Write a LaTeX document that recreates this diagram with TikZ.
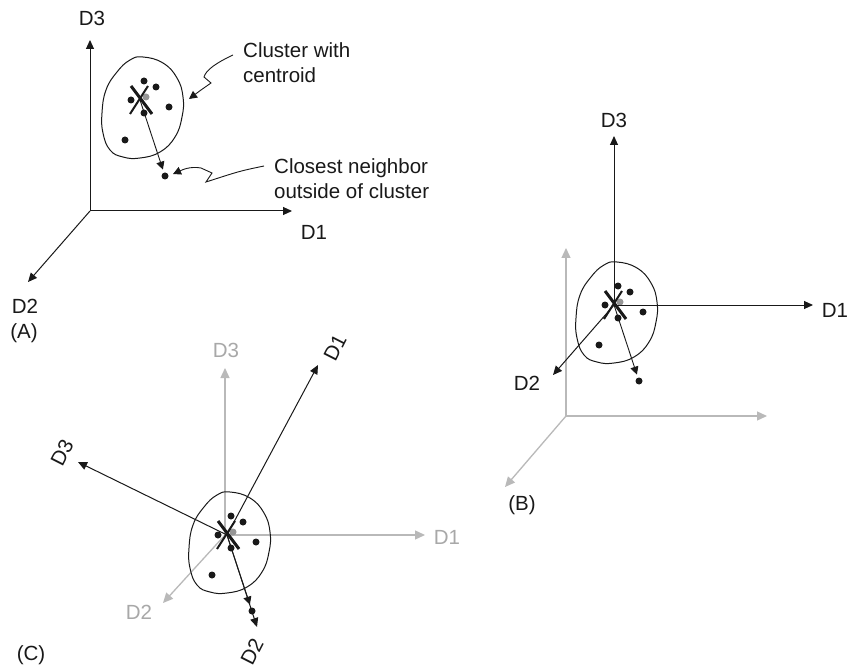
\documentclass[tikz,border=0pt]{standalone}
\usepackage{fontspec}
\setmainfont{Liberation Sans}
\usetikzlibrary{arrows.meta}

\definecolor{ink}{RGB}{25,25,25}
\definecolor{axisgray}{RGB}{185,185,185}
\definecolor{labelgray}{RGB}{168,168,168}
\definecolor{centgray}{RGB}{150,150,150}

\tikzset{
  tip/.style={-{Triangle[length=9pt,width=8pt]}},
  blackaxis/.style={draw=ink, line width=1pt, tip},
  grayaxis/.style={draw=axisgray, line width=1.3pt, -{Triangle[length=10pt,width=9pt]}},
  pointer/.style={draw=ink, line width=0.9pt, -{Triangle[length=8pt,width=8pt]}},
  lbl/.style={font=\fontsize{20.5}{25}\selectfont, text=ink, inner sep=0pt},
  graylbl/.style={lbl, text=labelgray},
  blob/.style={draw=ink, line width=1pt},
  dotmark/.style={circle, fill=ink, draw=none, inner sep=0pt, minimum size=7pt},
  centmark/.style={circle, fill=centgray, draw=none, inner sep=0pt, minimum size=7pt},
}

% one cluster: outline, members, centroid X and the arrow to the nearest outsider
\newcommand\drawcluster{%
  \coordinate (ctr) at (0,0);
  \draw[blob] plot[smooth cycle, tension=0.75] coordinates {
    (3,-43) (23,-37) (37,-22) (43,-3) (42,17) (35,37) (20,52) (0,58)
    (-17,57) (-30,50) (-37,33) (-38,13) (-34,-10) (-23,-28) (-10,-40)};
  \node[centmark] (cen) at (6,-3) {};
  \node[dotmark] (m1) at (4,-19) {};
  \node[dotmark] (m2) at (16,-13) {};
  \node[dotmark] (m3) at (-9,0) {};
  \node[dotmark] (m4) at (4,13) {};
  \node[dotmark] (m5) at (29,7) {};
  \node[dotmark] (m6) at (-15,40) {};
  \draw[ink, line width=3pt] (-9,-14) -- (12,14);
  \draw[ink, line width=2pt] (8,-14) -- (-10,14);
  \node[dotmark] (nb) at (25,76) {};
  \draw[pointer, shorten >=3pt] (ctr) -- (nb);
}

\begin{document}
\begin{tikzpicture}[x=1pt, y=-1pt]
\useasboundingbox (0,0) rectangle (849,671);
\fill[white] (0,0) rectangle (849,671);

% ---------- (A) original axes ----------
\coordinate (Ao) at (90,211);
\coordinate (Ax) at (292,211);
\coordinate (Ay) at (28,282);
\coordinate (Az) at (90,40);
\draw[blackaxis] (Ao) -- (Az);
\draw[blackaxis] (Ao) -- (Ax);
\draw[blackaxis] (Ao) -- (Ay);
\node[lbl] (Az-l) at (92,18) {D3};
\node[lbl] (Ax-l) at (314,232) {D1};
\node[lbl] (Ay-l) at (25,306) {D2};
\node[lbl] (A-tag) at (24,333) {(A)};

\begin{scope}[shift={(140,100)}, name prefix=A-]
  \drawcluster
\end{scope}

\node[lbl, anchor=north west, align=left] (cl-txt) at (243,42) {Cluster with\\centroid};
\node[lbl, anchor=north west, align=left] (nb-txt) at (274,158) {Closest neighbor\\outside of cluster};

\coordinate (cl-s) at (233,55);
\coordinate (cl-e) at (189,99);
\draw[pointer] (cl-s) .. controls (216,63) and (206,70) .. (204,77)
  -- (211,83) -- (201,90) .. controls (197,93) .. (cl-e);

\coordinate (nb-s) at (264,166);
\coordinate (nb-e) at (173,174);
\draw[pointer] (nb-s) .. controls (240,171) .. (206,182)
  -- (212,173) -- (201,168) .. controls (190,166) and (182,170) .. (nb-e);

% ---------- (B) axes moved to the centroid ----------
\coordinate (Bo) at (566,416);
\coordinate (Bx) at (767,416);
\coordinate (By) at (505,487);
\coordinate (Bz) at (566,248);
\draw[grayaxis] (Bo) -- (Bz);
\draw[grayaxis] (Bo) -- (Bx);
\draw[grayaxis] (Bo) -- (By);

\begin{scope}[shift={(614,305)}, name prefix=B-]
  \drawcluster
\end{scope}

\coordinate (B1) at (813,305);
\coordinate (B2) at (553,375);
\coordinate (B3) at (614,136);
\draw[blackaxis] (B-ctr) -- (B3);
\draw[blackaxis] (B-ctr) -- (B1);
\draw[blackaxis] (B-ctr) -- (B2);
\node[lbl] (B3-l) at (614,120) {D3};
\node[lbl] (B1-l) at (835,310) {D1};
\node[lbl] (B2-l) at (527,383) {D2};
\node[lbl] (B-tag) at (522,505) {(B)};

% ---------- (C) axes rotated so D2 meets the neighbour ----------
\coordinate (Co) at (225,535);
\coordinate (Cx) at (425,535);
\coordinate (Cy) at (163,603);
\coordinate (Cz) at (225,368);
\draw[grayaxis] (Co) -- (Cz);
\draw[grayaxis] (Co) -- (Cx);
\draw[grayaxis] (Co) -- (Cy);
\node[graylbl] (Cz-l) at (226,350) {D3};
\node[graylbl] (Cx-l) at (447,537) {D1};
\node[graylbl] (Cy-l) at (139,612) {D2};

\begin{scope}[shift={(227,535)}, name prefix=C-]
  \drawcluster
\end{scope}

\coordinate (C1) at (318,365);
\coordinate (C2) at (257,627);
\coordinate (C3) at (78,462);
\draw[blackaxis] (C-ctr) -- (C1);
\draw[blackaxis] (C-ctr) -- (C3);
\draw[blackaxis] (C-ctr) -- (C2);
\node[lbl, rotate=63] (C1-l) at (335,348) {D1};
\node[lbl, rotate=63] (C3-l) at (62,453) {D3};
\node[lbl, rotate=63] (C2-l) at (252,652) {D2};
\node[lbl] (C-tag) at (31,655) {(C)};
\end{tikzpicture}
\end{document}
